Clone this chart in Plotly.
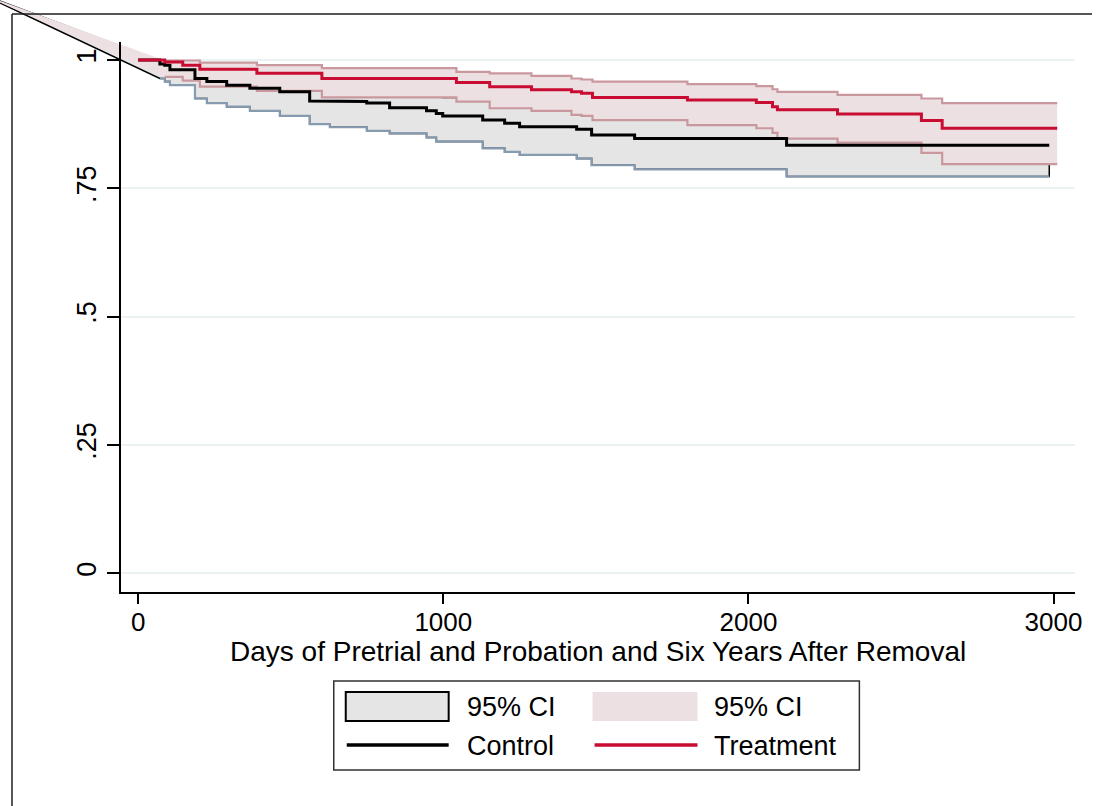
import plotly.graph_objects as go

# ---------------------------------------------------------------------------
# Kaplan-Meier survival estimates (time in days, survival probability)
# ---------------------------------------------------------------------------
ctrl_time = [0, 71, 87, 104, 186, 225, 290, 366, 464, 562, 628, 749, 824,
             945, 977, 998, 1129, 1201, 1250, 1437, 1486, 1627, 2125]
ctrl_surv = [1.0, 0.992, 0.990, 0.981, 0.964, 0.958, 0.951, 0.945, 0.938,
             0.920, 0.919, 0.916, 0.907, 0.901, 0.896, 0.891, 0.883, 0.877,
             0.870, 0.865, 0.854, 0.847, 0.834]
ctrl_end = 2986

# pointwise 95% confidence limits, defined from the first failure onwards
ctrl_ci_time = [71, 87, 104, 186, 225, 290, 366, 464, 562, 628, 749, 824,
                945, 977, 998, 1129, 1201, 1250, 1437, 1486, 1627, 2125]
ctrl_lb = [0.964, 0.958, 0.951, 0.925, 0.916, 0.909, 0.901, 0.891, 0.875,
           0.869, 0.862, 0.857, 0.849, 0.841, 0.841, 0.828, 0.821, 0.815,
           0.808, 0.795, 0.787, 0.773]
ctrl_ub = [0.998, 0.998, 0.995, 0.985, 0.982, 0.977, 0.972, 0.967, 0.952,
           0.950, 0.947, 0.940, 0.935, 0.931, 0.927, 0.920, 0.915, 0.909,
           0.905, 0.895, 0.889, 0.878]

trt_time = [0, 87, 146, 202, 389, 602, 1043, 1152, 1289, 1420, 1453, 1489,
            1800, 2026, 2079, 2095, 2292, 2567, 2635]
trt_surv = [1.0, 0.996, 0.990, 0.982, 0.974, 0.964, 0.956, 0.948, 0.942,
            0.938, 0.935, 0.927, 0.922, 0.917, 0.909, 0.903, 0.895, 0.882,
            0.867]
trt_end = 3012

trt_ci_time = [87, 146, 202, 389, 602, 1043, 1152, 1289, 1420, 1453, 1489,
               1800, 2026, 2079, 2095, 2292, 2567, 2635]
trt_ub = [0.999, 0.999, 0.995, 0.990, 0.984, 0.977, 0.974, 0.969, 0.964,
          0.962, 0.958, 0.953, 0.949, 0.943, 0.938, 0.932, 0.925, 0.916]
trt_lb = [0.967, 0.960, 0.948, 0.940, 0.927, 0.919, 0.906, 0.901, 0.893,
          0.891, 0.883, 0.873, 0.867, 0.858, 0.847, 0.839, 0.819, 0.797]

# leading row of the confidence-band data (outside the plotted range)
ci_origin_time = [-520]
ci_origin_surv = [1.13]

x_ticks = [0, 1000, 2000, 3000]
y_ticks = [0, 0.25, 0.5, 0.75, 1]
y_tick_text = ["0", ".25", ".5", ".75", "1"]
x_title = "Days of Pretrial and Probation and Six Years After Removal"

# ---------------------------------------------------------------------------
# page geometry (pixels)
# ---------------------------------------------------------------------------
W, H = 1100, 806
SX = 1.0066          # horizontal stretch applied to every paper position
X0_PX, PX_PER_DAY = 138.3, (1054.3 - 138.3) / 3000.0
Y1_PX, PX_PER_UNIT = 60.0, 513.3
PLOT_L, PLOT_R, PLOT_T, PLOT_B = 121.0, 1075.5, 42.0, 592.0


def day_at(px):
    return (px - X0_PX) / PX_PER_DAY


def surv_at(py):
    return 1.0 - (py - Y1_PX) / PX_PER_UNIT


def fx(px):
    return px * SX / W


def fy(py):
    return 1.0 - py / H


def steps(times, vals, t_end):
    """Expand (time, value) pairs into a right-continuous step path."""
    xs, ys = [], []
    for i, (t, v) in enumerate(zip(times, vals)):
        if i > 0:
            xs.append(t)
            ys.append(vals[i - 1])
        xs.append(t)
        ys.append(v)
    xs.append(t_end)
    ys.append(vals[-1])
    return xs, ys


def band(times, lb, ub, t_end):
    ux, uy = steps(times, ub, t_end)
    lx, ly = steps(times, lb, t_end)
    bx = ci_origin_time + ux + lx[::-1] + ci_origin_time
    by = ci_origin_surv + uy + ly[::-1] + ci_origin_surv
    return bx, by


GREY_FILL = "rgb(229,229,229)"
PINK_FILL = "rgb(237,224,226)"
PINK_LINE = "rgb(201,152,158)"
BLUE_GREY = "rgb(134,155,176)"
RED = "rgb(200,12,50)"
GRID = "rgb(234,242,243)"
FONT = "Liberation Sans, Arial, sans-serif"

fig = go.Figure()

# grid layer (bottom subplot)
fig.add_trace(go.Scatter(x=[], y=[], mode="lines", hoverinfo="skip",
                         xaxis="x", yaxis="y"))

# full-page layer for the confidence bands (not clipped to the axes)
band_axes = dict(xaxis="x2", yaxis="y2")
cbx, cby = band(ctrl_ci_time, ctrl_lb, ctrl_ub, ctrl_end)
fig.add_trace(go.Scatter(x=cbx, y=cby, mode="lines", fill="toself",
                         fillcolor=GREY_FILL,
                         line=dict(color="black", width=1.5),
                         hoverinfo="skip", **band_axes))
clx, cly = steps(ctrl_ci_time, ctrl_lb, ctrl_end)
fig.add_trace(go.Scatter(x=clx, y=cly, mode="lines",
                         line=dict(color=BLUE_GREY, width=2.2),
                         hoverinfo="skip", **band_axes))

tbx, tby = band(trt_ci_time, trt_lb, trt_ub, trt_end)
fig.add_trace(go.Scatter(x=tbx, y=tby, mode="lines", fill="toself",
                         fillcolor=PINK_FILL,
                         line=dict(color=PINK_FILL, width=0),
                         hoverinfo="skip", **band_axes))
for lim in (trt_ub, trt_lb):
    sx, sy = steps(trt_ci_time, lim, trt_end)
    fig.add_trace(go.Scatter(x=sx, y=sy, mode="lines",
                             line=dict(color=PINK_LINE, width=2.2),
                             hoverinfo="skip", **band_axes))

# survival curves on the top subplot, together with the axes
curve_axes = dict(xaxis="x3", yaxis="y3")
sx, sy = steps(ctrl_time, ctrl_surv, ctrl_end)
fig.add_trace(go.Scatter(x=sx, y=sy, mode="lines", name="Control",
                         line=dict(color="black", width=3), **curve_axes))
sx, sy = steps(trt_time, trt_surv, trt_end)
fig.add_trace(go.Scatter(x=sx, y=sy, mode="lines", name="Treatment",
                         line=dict(color=RED, width=3), **curve_axes))

x_dom = [fx(PLOT_L), fx(PLOT_R)]
y_dom = [fy(PLOT_B), fy(PLOT_T)]
x_rng = [day_at(PLOT_L), day_at(PLOT_R)]
y_rng = [surv_at(PLOT_B), surv_at(PLOT_T)]

# outer frame and keyed legend box under the plot
shapes = [
    dict(type="line", xref="paper", yref="paper", x0=fx(12), y0=fy(14),
         x1=1.0, y1=fy(14), line=dict(color="rgb(30,30,30)", width=1.5)),
    dict(type="line", xref="paper", yref="paper", x0=fx(12), y0=fy(14),
         x1=fx(12), y1=0.0, line=dict(color="rgb(30,30,30)", width=1.5)),
    dict(type="rect", xref="paper", yref="paper", x0=fx(334), y0=fy(770),
         x1=fx(860), y1=fy(681), fillcolor="white",
         line=dict(color="rgb(50,50,50)", width=1.5)),
    dict(type="rect", xref="paper", yref="paper", x0=fx(346), y0=fy(721),
         x1=fx(449), y1=fy(692), fillcolor=GREY_FILL,
         line=dict(color="black", width=2)),
    dict(type="rect", xref="paper", yref="paper", x0=fx(593), y0=fy(721),
         x1=fx(698), y1=fy(692), fillcolor=PINK_FILL,
         line=dict(width=0)),
    dict(type="line", xref="paper", yref="paper", x0=fx(347), y0=fy(745),
         x1=fx(449), y1=fy(745), line=dict(color="black", width=3.5)),
    dict(type="line", xref="paper", yref="paper", x0=fx(595), y0=fy(745),
         x1=fx(698), y1=fy(745), line=dict(color=RED, width=3.5)),
]
annotations = [dict(text=x_title, xref="paper", yref="paper",
                    x=fx((PLOT_L + PLOT_R) / 2), y=fy(651),
                    xanchor="center", yanchor="middle", showarrow=False,
                    font=dict(family=FONT, size=28, color="black"))]
for txt, px, py in [("95% CI", 465, 707), ("Control", 465, 746),
                    ("95% CI", 713, 707), ("Treatment", 713, 746)]:
    annotations.append(dict(text=txt, xref="paper", yref="paper",
                            x=fx(px), y=fy(py), xanchor="left",
                            yanchor="middle", showarrow=False,
                            font=dict(family=FONT, size=27, color="black")))

fig.update_layout(
    width=W, height=H, autosize=False,
    margin=dict(l=0, r=0, t=0, b=0),
    paper_bgcolor="white", plot_bgcolor="rgba(0,0,0,0)",
    showlegend=False,
    font=dict(family=FONT, color="black"),
    xaxis=dict(domain=x_dom, range=x_rng, anchor="y", showgrid=False,
               showline=False, zeroline=False, showticklabels=False,
               ticks=""),
    yaxis=dict(domain=y_dom, range=y_rng, anchor="x", tickvals=y_ticks,
               showgrid=True, gridcolor=GRID, gridwidth=2, showline=False,
               zeroline=False, showticklabels=False, ticks=""),
    xaxis2=dict(domain=[0, 1], range=[day_at(0), day_at(W / SX)],
                anchor="y2", visible=False),
    yaxis2=dict(domain=[0, 1], range=[surv_at(H), surv_at(0)], anchor="x2",
                visible=False),
    xaxis3=dict(domain=x_dom, range=x_rng, anchor="y3", showgrid=False,
                zeroline=False, showline=True, linecolor="black",
                linewidth=2, ticks="outside", ticklen=10, tickwidth=2,
                tickcolor="black", tickvals=x_ticks, ticklabelstandoff=-4,
                tickfont=dict(family=FONT, size=26)),
    yaxis3=dict(domain=y_dom, range=y_rng, anchor="x3", showgrid=False,
                zeroline=False, showline=True, linecolor="black",
                linewidth=2, ticks="outside", ticklen=12, tickwidth=2,
                tickcolor="black", tickvals=y_ticks, ticktext=y_tick_text,
                tickangle=-90, tickfont=dict(family=FONT, size=27)),
    shapes=shapes,
    annotations=annotations,
)

fig.write_html("out.html", config={"responsive": False})
